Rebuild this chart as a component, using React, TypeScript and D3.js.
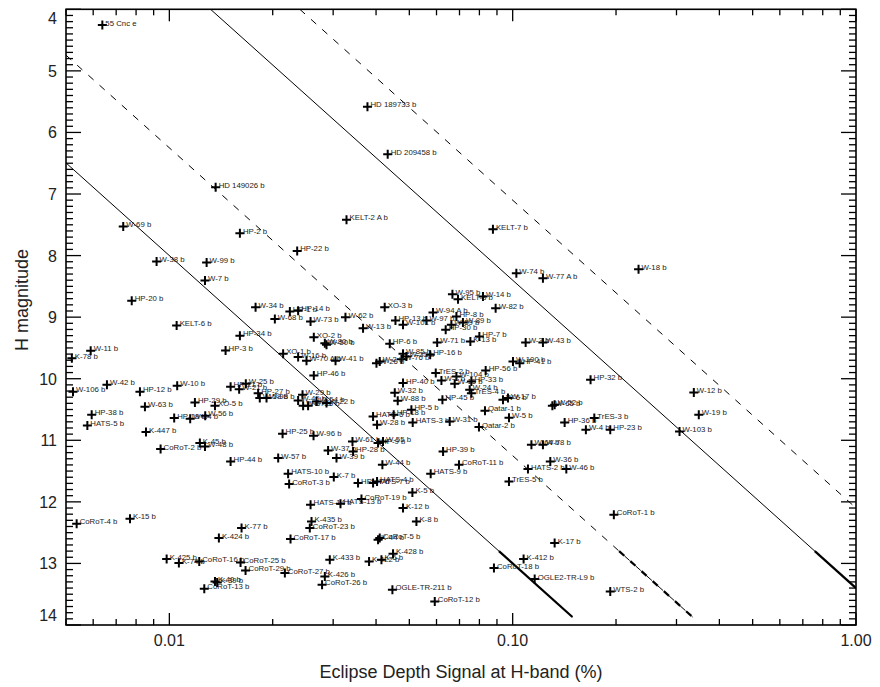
import React from "react";
import * as d3 from "d3";

// ---------------- data ----------------
const planetNames: string[] = [
  "55 Cnc e","HD 149026 b","HD 189733 b","HD 209458 b","W-69 b","HP-2 b","HP-22 b","W-38 b","W-99 b","W-7 b",
  "HP-20 b","W-34 b","HP-1 b","HP-14 b","W-68 b","W-73 b","KELT-6 b","HP-34 b","HP-3 b","XO-2 b",
  "XO-1 b","W-16 b","W-70 A b","W-41 b","HP-46 b","W-11 b","K-78 b","W-106 b","W-42 b","HP-12 b",
  "W-10 b","HP-21 b","W-21 b","W-25 b","HP-27 b","W-58 b","W-98 b","W-63 b","HP-29 b","XO-5 b",
  "HP-38 b","HATS-5 b","HP-19 b","W-84 b","W-56 b","K-447 b","CoRoT-2 b","K-45 b","W-48 b","HP-44 b",
  "W-57 b","HP-25 b","W-96 b","HATS-10 b","CoRoT-3 b","HATS-14 b","HATS-13 b","CoRoT-19 b","W-29 b","W-45 b",
  "W-67 b","HP-26 b","W-54 b","W-22 b","KELT-2 A b","KELT-7 b","W-74 b","W-77 A b","W-95 b","W-14 b",
  "KELT-3 b","XO-3 b","W-94 A b","W-82 b","W-62 b","HP-13 b","W-97 b","HP-8 b","W-101 b","W-89 b",
  "HP-30 b","W-59 b","W-13 b","W-80 b","W-50 b","HP-6 b","W-71 b","K-13 b","HP-7 b","W-3 b",
  "W-43 b","W-85 b","W-76 b","W-35 b","W-26 b","W-2 b","HP-16 b","TrES-2 b","W-104 b","W-1 b",
  "W-15 b","HP-33 b","HP-56 b","W-100 b","HP-41 b","HP-40 b","W-32 b","W-88 b","HP-45 b","W-24 b",
  "TrES-4 b","W-6 b","W-17 b","W-65 b","W-52 b","HP-32 b","Qatar-1 b","W-5 b","W-31 b","HATS-3 b",
  "HP-5 b","HATS-6 b","HP-18 b","W-28 b","Qatar-2 b","HP-36 b","TrES-3 b","W-4 b","HP-23 b","W-19 b",
  "W-103 b","CoRoT-1 b","WTS-2 b","W-18 b","W-12 b","W-61 b","HP-9 b","W-55 b","W-37 b","HP-28 b",
  "W-39 b","HP-39 b","CoRoT-11 b","W-44 b","HATS-9 b","K-7 b","HP-47 b","HATS-7 b","HATS-4 b","TrES-5 b",
  "HATS-2 b","W-36 b","W-46 b","W-64 b","W-78 b","K-5 b","K-12 b","K-8 b","K-435 b","CoRoT-23 b",
  "CoRoT-17 b","K-44 b","CoRoT-5 b","K-17 b","K-433 b","K-422 b","K-6 b","K-428 b","K-412 b","CoRoT-18 b",
  "OGLE2-TR-L9 b","K-426 b","CoRoT-26 b","OGLE-TR-211 b","CoRoT-12 b","CoRoT-4 b","K-15 b","K-77 b","K-424 b","K-425 b",
  "K-74 b","CoRoT-16 b","CoRoT-25 b","CoRoT-29 b","CoRoT-27 b","K-40 b","K-39 b","CoRoT-13 b",
];

// eclipse depth signal at H-band (%)
const depthPct: number[] = [
  0.00638, 0.01364, 0.03776, 0.04325, 0.00734, 0.01605, 0.02357, 0.00918, 0.01284, 0.0127,
  0.00777, 0.01783, 0.02244, 0.02372, 0.02029, 0.02578, 0.0105, 0.01605, 0.01458, 0.02635,
  0.02145, 0.02372, 0.02509, 0.03048, 0.02635, 0.0059, 0.0052, 0.00524, 0.00658, 0.00821,
  0.01054, 0.01508, 0.01597, 0.0167, 0.01814, 0.01834, 0.01919, 0.00849, 0.01187, 0.01358,
  0.00594, 0.00577, 0.01033, 0.0115, 0.01272, 0.00855, 0.00943, 0.01227, 0.0127, 0.01508,
  0.02075, 0.02137, 0.0263, 0.02218, 0.02233, 0.02578, 0.03151, 0.03627, 0.02443, 0.02372,
  0.02453, 0.02536, 0.02683, 0.02869, 0.03281, 0.0876, 0.1025, 0.1225, 0.06676, 0.08194,
  0.06931, 0.04239, 0.0586, 0.0892, 0.03258, 0.04556, 0.05607, 0.06857, 0.04793, 0.07163,
  0.06381, 0.06629, 0.03666, 0.02837, 0.02869, 0.04385, 0.06027, 0.07529, 0.07998, 0.1091,
  0.1225, 0.04793, 0.04743, 0.04904, 0.04011, 0.041, 0.0575, 0.0597, 0.06857, 0.06201,
  0.06779, 0.07581, 0.08344, 0.1002, 0.1048, 0.04793, 0.04535, 0.04626, 0.06243, 0.07496,
  0.07581, 0.0937, 0.0969, 0.1305, 0.1325, 0.1686, 0.08305, 0.09755, 0.06556, 0.05115,
  0.0507, 0.03921, 0.04503, 0.04027, 0.07976, 0.1417, 0.1729, 0.1634, 0.1924, 0.3484,
  0.3062, 0.1971, 0.1924, 0.2326, 0.337, 0.03415, 0.04054, 0.04191, 0.029, 0.03429,
  0.03068, 0.0627, 0.06976, 0.04174, 0.0577, 0.03013, 0.03545, 0.03921, 0.04027, 0.09755,
  0.1108, 0.1287, 0.1433, 0.1134, 0.1225, 0.05104, 0.04793, 0.05244, 0.02595, 0.02565,
  0.02254, 0.04054, 0.041, 0.1325, 0.02933, 0.03817, 0.04147, 0.04483, 0.1076, 0.0882,
  0.1159, 0.02837, 0.02785, 0.04464, 0.0593, 0.00537, 0.00768, 0.01623, 0.01394, 0.00982,
  0.01066, 0.01222, 0.01612, 0.01667, 0.0217, 0.01358, 0.01378, 0.01264,
];

// H magnitude of host star
const hMag: number[] = [
  4.255, 6.89, 5.581, 6.354, 7.529, 7.636, 7.924, 8.097, 8.114, 8.406,
  8.735, 8.838, 8.909, 8.898, 9.032, 9.071, 9.136, 9.304, 9.542, 9.325,
  9.596, 9.649, 9.709, 9.709, 9.948, 9.547, 9.666, 10.213, 10.099, 10.213,
  10.115, 10.131, 10.169, 10.083, 10.234, 10.315, 10.315, 10.456, 10.386, 10.44,
  10.586, 10.76, 10.64, 10.651, 10.602, 10.867, 11.143, 11.045, 11.101, 11.344,
  11.289, 10.894, 10.927, 11.544, 11.711, 12.047, 12.031, 11.955, 10.261, 10.354,
  10.44, 10.44, 10.37, 10.396, 7.42, 7.571, 8.286, 8.367, 8.627, 8.666,
  8.708, 8.838, 8.925, 8.854, 9.0, 9.055, 9.055, 8.99, 9.125, 9.088,
  9.206, 9.125, 9.179, 9.422, 9.45, 9.433, 9.412, 9.396, 9.315, 9.412,
  9.412, 9.596, 9.682, 9.64, 9.747, 9.721, 9.612, 9.909, 9.964, 10.029,
  10.083, 10.045, 9.867, 9.721, 9.747, 10.071, 10.229, 10.359, 10.342, 10.18,
  10.234, 10.342, 10.315, 10.44, 10.424, 10.018, 10.521, 10.635, 10.695, 10.711,
  10.505, 10.614, 10.586, 10.748, 10.786, 10.711, 10.64, 10.83, 10.83, 10.586,
  10.857, 12.209, 13.455, 8.221, 10.224, 11.019, 11.045, 11.019, 11.166, 11.181,
  11.289, 11.181, 11.398, 11.398, 11.544, 11.597, 11.695, 11.695, 11.669, 11.669,
  11.468, 11.344, 11.468, 11.073, 11.073, 11.847, 12.1, 12.318, 12.318, 12.425,
  12.604, 12.615, 12.588, 12.669, 12.94, 12.968, 12.94, 12.843, 12.929, 13.076,
  13.253, 13.211, 13.346, 13.427, 13.617, 12.356, 12.274, 12.425, 12.588, 12.929,
  12.994, 12.968, 12.983, 13.114, 13.156, 13.292, 13.308, 13.411,
];

// constant-SNR reference lines: H = 5*log10(depth) + zeroPoint
const lineZeroPoints: number[] = [18.0, 16.25, 13.4, 12.1];
const lineEndMag = 13.87;
const thickStartMag = 12.8;

const xMajorTicks: number[] = [0.01, 0.1, 1.0];
const xMajorLabels: string[] = ["0.01", "0.10", "1.00"];
const yMajorTicks: number[] = [4, 5, 6, 7, 8, 9, 10, 11, 12, 13, 14];

const xTitle = "Eclipse Depth Signal at H-band (%)";
const yTitle = "H magnitude";

// ---------------- layout ----------------
const W = 880;
const H = 687;
const X0 = 66, X1 = 856, Y0 = 9.3, Y1 = 625;

export default function App() {
  const x = d3.scaleLog().domain([0.005, 1]).range([X0, X1]);
  const y = d3.scaleLinear().domain([4, 14]).range([Y0, Y1]);

  const xMinor: number[] = [];
  [0.001, 0.01, 0.1].forEach((b) => {
    for (let k = 2; k <= 9; k++) {
      const v = b * k;
      if (v >= 0.005 && v <= 1) xMinor.push(v);
    }
  });
  const yMinor: number[] = [];
  for (let i = 40; i <= 140; i++) if (i % 10 !== 0) yMinor.push(i / 10);

  const seg = (c: number, m0: number, m1: number) => {
    const dA = Math.max(0.005, Math.pow(10, (m0 - c) / 5));
    const dB = Math.min(1, Math.pow(10, (m1 - c) / 5));
    if (dB <= dA) return null;
    const mA = 5 * Math.log10(dA) + c;
    const mB = 5 * Math.log10(dB) + c;
    return { x1: x(dA), y1: y(mA), x2: x(dB), y2: y(mB) };
  };

  const font = "'Liberation Sans', Arial, Helvetica, sans-serif";

  return (
    <svg
      width={W}
      height={H}
      viewBox={`0 0 ${W} ${H}`}
      style={{ position: "absolute", left: 0, top: 0, background: "#fff" }}
    >
      <rect x={0} y={0} width={W} height={H} fill="#fff" />
      <defs>
        <clipPath id="plotclip">
          <rect x={X0} y={Y0} width={X1 - X0} height={Y1 - Y0} />
        </clipPath>
      </defs>

      {/* reference lines */}
      <g clipPath="url(#plotclip)" stroke="#000" fill="none">
        {lineZeroPoints.map((c, i) => {
          const s = seg(c, 4, lineEndMag);
          const t = seg(c, thickStartMag, lineEndMag);
          const dash = i % 2 === 1 ? "7,8" : undefined;
          return (
            <g key={i}>
              {s && <line {...s} strokeWidth={1} strokeDasharray={dash} />}
              {t && <line {...t} strokeWidth={2.2} strokeDasharray={dash} />}
            </g>
          );
        })}
      </g>

      {/* points */}
      <g>
        {planetNames.map((n, i) => {
          const px = x(depthPct[i]);
          const py = y(hMag[i]);
          return (
            <g key={i}>
              <path
                d={`M${px - 4.5},${py}H${px + 4.5}M${px},${py - 4.5}V${py + 4.5}`}
                stroke="#000"
                strokeWidth={2}
                fill="none"
              />
              <text
                x={px + 3}
                y={py + 0.5}
                fontSize={7.8}
                fontFamily={font}
                fill="#1a1a1a"
              >
                {n}
              </text>
            </g>
          );
        })}
      </g>

      {/* frame */}
      <rect
        x={X0}
        y={Y0}
        width={X1 - X0}
        height={Y1 - Y0}
        fill="none"
        stroke="#000"
        strokeWidth={1.6}
      />

      {/* ticks */}
      <g stroke="#000" strokeWidth={1.3}>
        {xMajorTicks.map((v, i) => (
          <g key={"xm" + i}>
            <line x1={x(v)} x2={x(v)} y1={Y1} y2={Y1 - 12} />
            <line x1={x(v)} x2={x(v)} y1={Y0} y2={Y0 + 12} />
          </g>
        ))}
        {xMinor.map((v, i) => (
          <g key={"xn" + i}>
            <line x1={x(v)} x2={x(v)} y1={Y1} y2={Y1 - 6} />
            <line x1={x(v)} x2={x(v)} y1={Y0} y2={Y0 + 6} />
          </g>
        ))}
        {yMajorTicks.map((v, i) => (
          <g key={"ym" + i}>
            <line x1={X0} x2={X0 + 15} y1={y(v)} y2={y(v)} />
            <line x1={X1} x2={X1 - 15} y1={y(v)} y2={y(v)} />
          </g>
        ))}
        {yMinor.map((v, i) => (
          <g key={"yn" + i}>
            <line x1={X0} x2={X0 + 7} y1={y(v)} y2={y(v)} />
            <line x1={X1} x2={X1 - 7} y1={y(v)} y2={y(v)} />
          </g>
        ))}
      </g>

      {/* tick labels */}
      <g fontFamily={font} fontSize={16} fill="#222">
        {xMajorTicks.map((v, i) => (
          <text key={"xl" + i} x={x(v)} y={646} textAnchor="middle">
            {xMajorLabels[i]}
          </text>
        ))}
        {yMajorTicks.map((v, i) => {
          let yy = y(v) + 6;
          if (i === 0) yy = y(v) + 15;
          if (i === yMajorTicks.length - 1) yy = y(v) - 4;
          return (
            <text key={"yl" + i} x={57} y={yy} textAnchor="end">
              {v}
            </text>
          );
        })}
      </g>

      {/* titles */}
      <text
        x={(X0 + X1) / 2}
        y={678}
        textAnchor="middle"
        fontFamily={font}
        fontSize={18}
        fill="#222"
      >
        {xTitle}
      </text>
      <text
        transform={`translate(28, 300) rotate(-90)`}
        textAnchor="middle"
        fontFamily={font}
        fontSize={18}
        fill="#222"
      >
        {yTitle}
      </text>
    </svg>
  );
}
